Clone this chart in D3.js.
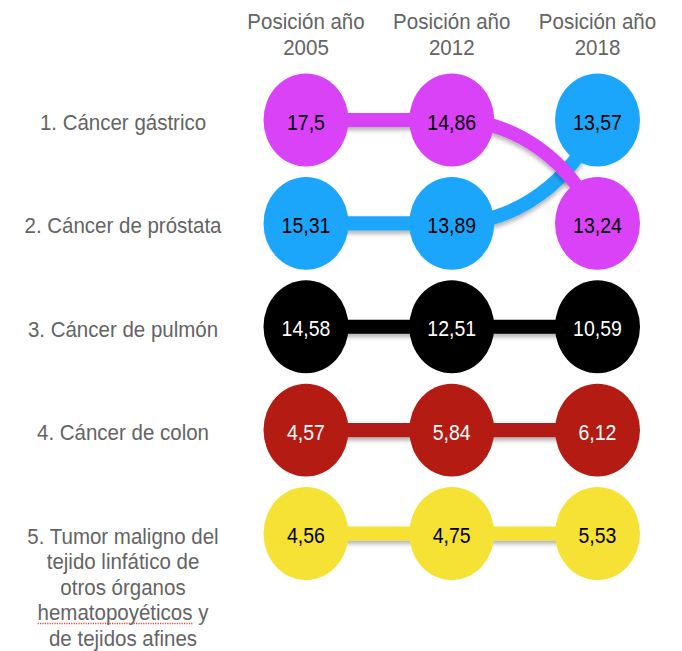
<!DOCTYPE html>
<html>
<head>
<meta charset="utf-8">
<script src="https://cdn.jsdelivr.net/npm/d3@7"></script>
<style>
  html, body { margin: 0; padding: 0; background: #fff; }
  svg { display: block; }
  text { font-family: "Liberation Sans", Arial, Helvetica, sans-serif; }
</style>
</head>
<body>
<div id="chart"></div>
<script>
// ---- data ----
const years = ["2005", "2012", "2018"];
const headerPrefix = "Posición año";
const rowLabels = [
  "1. Cáncer gástrico",
  "2. Cáncer de próstata",
  "3. Cáncer de pulmón",
  "4. Cáncer de colon",
  "5. Tumor maligno del\ntejido linfático de\notros órganos\nhematopoyéticos y\nde tejidos afines"
];
const seriesNames = ["Cáncer gástrico", "Cáncer de próstata", "Cáncer de pulmón", "Cáncer de colon", "Tumor maligno del tejido linfático"];
const gastrico = [17.5, 14.86, 13.24];
const prostata = [15.31, 13.89, 13.57];
const pulmon   = [14.58, 12.51, 10.59];
const colon    = [4.57, 5.84, 6.12];
const tumor    = [4.56, 4.75, 5.53];
const seriesValues = [gastrico, prostata, pulmon, colon, tumor];

// ---- style ----
const seriesColors = ["#d942f6", "#1ca6fb", "#000000", "#b31b13", "#f5e235"];
const valueTextColors = ["#000", "#000", "#fff", "#fff", "#000"];
const W = 682, H = 651;
const SY = 1.094; // vertical stretch of the original picture

const svg = d3.select("#chart").append("svg").attr("width", W).attr("height", H);
const defs = svg.append("defs");
const f = defs.append("filter").attr("id", "shadow")
  .attr("filterUnits", "userSpaceOnUse")
  .attr("x", 0).attr("y", 0).attr("width", W).attr("height", H);
f.append("feDropShadow").attr("dx", 0).attr("dy", 3).attr("stdDeviation", 2)
  .attr("flood-color", "#000").attr("flood-opacity", 0.3);

const g = svg.append("g").attr("transform", `scale(1,${SY})`);

const x = d3.scalePoint().domain(years).range([306, 597.5]);
const y = d3.scalePoint().domain([1, 2, 3, 4, 5]).range([120 / SY, 533.5 / SY]);
const R = 42.5;

// ranks per year
const series = seriesNames.map((name, i) => ({ name, i, values: seriesValues[i], ranks: [] }));
years.forEach((yr, j) => {
  const sorted = series.slice().sort((a, b) => b.values[j] - a.values[j]);
  sorted.forEach((s, k) => { s.ranks[j] = k + 1; });
});

const fmt = v => String(v).replace(".", ",");

// headers
const hdr = g.append("g");
years.forEach(yr => {
  const t = hdr.append("text").attr("x", x(yr)).attr("text-anchor", "middle")
    .attr("font-size", 20.5).attr("fill", "#646464");
  t.append("tspan").attr("x", x(yr)).attr("y", 29 / SY).text(headerPrefix);
  t.append("tspan").attr("x", x(yr)).attr("y", 55 / SY).text(yr);
});

// row labels
const lblG = g.append("g");
const LH = 23.3;
rowLabels.forEach((lbl, k) => {
  const lines = lbl.split("\n");
  const t = lblG.append("text").attr("text-anchor", "middle")
    .attr("font-size", 20.5).attr("fill", "#646464");
  const base = y(k + 1) + (lines.length > 1 ? 9.6 : 9);
  lines.forEach((ln, li) => {
    const ts = t.append("tspan").attr("x", 123).attr("y", base + li * LH).text(ln);
    if (ln.startsWith("hematopoyéticos")) {
      // spell-check underline under the word
      const tmp = lblG.append("text").attr("font-size", 20.5).attr("x", -1000).attr("y", -1000).text("hematopoyéticos");
      const wWord = tmp.node().getComputedTextLength();
      const wLine = ts.node().getComputedTextLength();
      tmp.remove();
      const x0 = 123 - wLine / 2;
      lblG.append("line").attr("x1", x0).attr("x2", x0 + wWord)
        .attr("y1", base + li * LH + 2.8).attr("y2", base + li * LH + 2.8)
        .attr("stroke", "#e0443c").attr("stroke-width", 1.3)
        .attr("stroke-dasharray", "1.2,1.2");
    }
  });
});

// connecting lines
function segPath(x0, y0, x1, y1) {
  if (Math.abs(y1 - y0) < 0.01) return `M${x0},${y0}L${x1},${y1}`;
  const dx = x1 - x0, dy = y1 - y0;
  const r = (dx * dx + dy * dy) / (2 * Math.abs(dy));
  const sweep = dy > 0 ? 1 : 0;
  return `M${x0},${y0}A${r},${r} 0 0 ${sweep} ${x1},${y1}`;
}
const lineG = g.append("g");
series.slice().reverse().forEach(s => {
  let d = "";
  for (let j = 0; j < years.length - 1; j++) {
    d += segPath(x(years[j]), y(s.ranks[j]), x(years[j + 1]), y(s.ranks[j + 1]));
  }
  lineG.append("path").attr("d", d).attr("fill", "none")
    .attr("stroke", seriesColors[s.i]).attr("stroke-width", 13)
    .attr("filter", "url(#shadow)");
});

// circles
const nodeG = g.append("g");
series.forEach(s => {
  years.forEach((yr, j) => {
    nodeG.append("circle").attr("cx", x(yr)).attr("cy", y(s.ranks[j])).attr("r", R)
      .attr("fill", seriesColors[s.i]);
    nodeG.append("text").attr("x", x(yr)).attr("y", y(s.ranks[j]) + 8.8)
      .attr("text-anchor", "middle").attr("font-size", 19.5)
      .attr("fill", valueTextColors[s.i]).text(fmt(s.values[j]));
  });
});
</script>
</body>
</html>
